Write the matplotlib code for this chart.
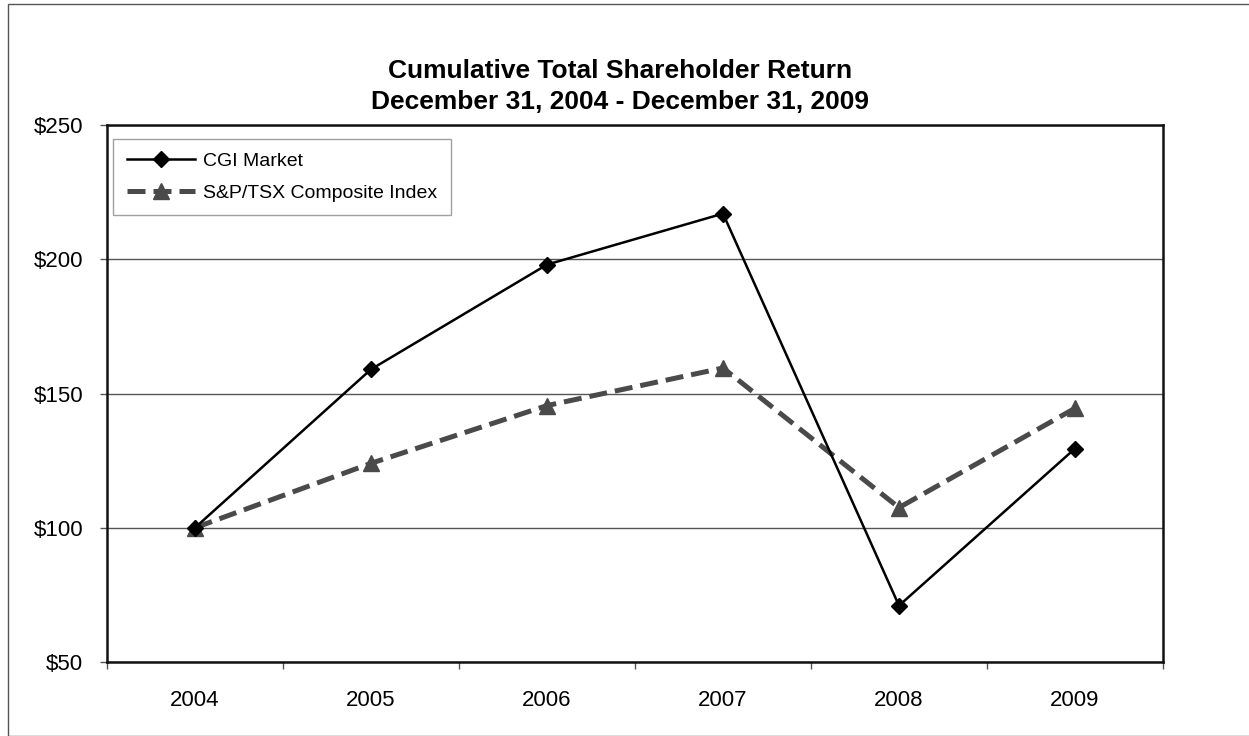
import matplotlib
matplotlib.use("Agg")
import matplotlib.pyplot as plt
from matplotlib.patches import Rectangle

plt.rcParams['font.family'] = ['Liberation Sans', 'DejaVu Sans']

years = ["2004", "2005", "2006", "2007", "2008", "2009"]
cgi = [100, 159, 198, 217, 71, 129.5]
tsx = [100, 124, 145.5, 159.5, 107.5, 144.5]
yticks = [50, 100, 150, 200, 250]
ytick_labels = ["$50", "$100", "$150", "$200", "$250"]

W, H = 1249, 736
fig = plt.figure(figsize=(W / 100, H / 100), dpi=100)
fig.patches.append(Rectangle((8 / W, 0), 1.2, (H - 4) / H, transform=fig.transFigure,
                             fill=False, edgecolor='#555555', linewidth=1.0))
ax = fig.add_axes([107 / W, 1 - 662 / H, (1163 - 107) / W, (662 - 125) / H])

x = list(range(len(years)))
ax.plot(x, cgi, color='black', lw=1.8, marker='D', ms=8, label='CGI Market', zorder=4)
ax.plot(x, tsx, color='#4a4a4a', lw=3.6, ls=(0, (3.6, 1.6)), marker='^', ms=11,
        label='S&P/TSX Composite Index', zorder=3)

ax.set_xlim(-0.5, 5.5)
ax.set_ylim(50, 250)
ax.set_yticks(yticks)
ax.set_yticklabels(ytick_labels, fontsize=16)
ax.set_xticks([i - 0.5 for i in range(len(years) + 1)])
ax.set_xticklabels([])
ax.set_xticks(x, minor=True)
ax.set_xticklabels(years, minor=True, fontsize=16)
ax.tick_params(axis='x', which='minor', length=0, pad=20)
ax.tick_params(axis='x', which='major', length=5, width=1, direction='out', color='#555555')
ax.tick_params(axis='y', length=5, width=1, direction='out', color='#555555', pad=12)

ax.grid(axis='y', color='#555555', lw=1.0)
ax.set_axisbelow(True)
for s in ax.spines.values():
    s.set_linewidth(1.8)
    s.set_color('#111111')

leg = ax.legend(loc='upper left', bbox_to_anchor=(6 / 1056, 1 - 14 / 537), fontsize=14,
                frameon=True, fancybox=False, edgecolor='#888888', handlelength=3.5,
                borderpad=0.7, labelspacing=0.72, handletextpad=0.45, borderaxespad=0)
leg.get_frame().set_linewidth(1.0)

fig.text(620 / W, 1 - 71 / H, "Cumulative Total Shareholder Return", ha='center', va='center',
         fontsize=19, fontweight='bold')
fig.text(620 / W, 1 - 102 / H, "December 31, 2004 - December 31, 2009", ha='center', va='center',
         fontsize=19, fontweight='bold')

fig.savefig("out.png", dpi=100)
